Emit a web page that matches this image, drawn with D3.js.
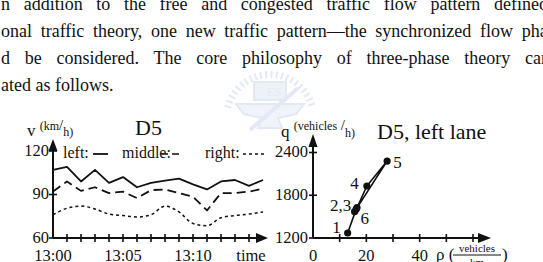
<!DOCTYPE html>
<html>
<head>
<meta charset="utf-8">
<script src="https://cdn.jsdelivr.net/npm/d3@7"></script>
<style>
  body { margin: 0; background: #fff; }
  svg { display: block; }
  text { font-family: "Liberation Serif", "Times New Roman", serif; fill: #111; }
</style>
</head>
<body>
<div id="page"></div>
<script>
// page text (justified lines, cut by the page edges)
var bodyLines = [
  "n addition to the free and congested traffic flow pattern defined",
  "onal traffic theory, one new traffic pattern\u2014the synchronized flow phase",
  "d be considered. The core philosophy of three-phase theory can",
  "ated as follows."
];
var justifyTo = ["defined", "flow", "can", null];

// left chart: speed per minute, 13:00 .. 13:15
var minutes = d3.range(0, 16);
var speedLeft   = [107, 109, 99, 107, 98, 102, 95, 98, 99.5, 101, 97, 93.5, 99, 100, 96, 100];
var speedMiddle = [92, 99, 92.5, 95, 91, 92, 87.5, 93, 93.5, 91, 88.5, 79, 91, 91, 92, 94];
var speedRight  = [76, 80.5, 82, 80, 76.5, 75.5, 74.5, 76, 82, 78, 70, 68.5, 74, 75.5, 76.5, 78];
var timeTicks = ["13:00", "13:05", "13:10"];
var speedTicks = [60, 90, 120];

// right chart: flow-density points of the left lane
var pointIds = ["1", "2", "3", "4", "5", "6"];
var pointRho = [13, 16.2, 16.5, 20.2, 27.8, 15.6];
var pointQ   = [1270, 1605, 1625, 1930, 2280, 1570];
var pointLabels = ["1", "2,3", "4", "5", "6"];
var rhoTicks = [0, 10, 20, 30, 40, 50, 60];
var rhoLabels = [0, 20, 40];
var flowTicks = [1200, 1800, 2400];

var W = 543, H = 262;
var serif = "'Liberation Serif', 'Times New Roman', serif";
var svg = d3.select("#page").append("svg")
  .attr("width", W).attr("height", H)
  .attr("font-family", serif);

// faint watermark logo behind the text
var logo = svg.append("g").attr("transform", "translate(270,118)")
  .attr("fill", "none").attr("stroke", "#e2e9f4").attr("stroke-width", 2);
logo.selectAll("line.tk").data(d3.range(-75, 76, 7)).enter().append("line")
  .attr("x1", function(d) { return 40 * Math.sin(d * Math.PI / 180); })
  .attr("y1", function(d) { return -40 * Math.cos(d * Math.PI / 180); })
  .attr("x2", function(d) { return 47 * Math.sin(d * Math.PI / 180); })
  .attr("y2", function(d) { return -47 * Math.cos(d * Math.PI / 180); });
logo.append("rect").attr("x", -16).attr("y", -36).attr("width", 32).attr("height", 18)
  .attr("fill", "#edf2f9").attr("stroke", "#e2e9f4");
logo.append("text").attr("x", 4).attr("y", -22).attr("text-anchor", "middle")
  .style("font-size", "13px").style("fill", "#e4ebf5").attr("stroke", "none").text("ES");
logo.append("path").attr("d", "M-34,-14 L34,-14 L26,-4 L8,0 L12,10 L-12,10 L-8,0 L-26,-4 Z")
  .attr("fill", "#f0f4fa");
logo.append("line").attr("x1", -20).attr("y1", 12).attr("x2", 28).attr("y2", -30)
  .attr("stroke-width", 4);

// body text, justified by word spacing
bodyLines.forEach(function(line, i) {
  var t = svg.append("text")
    .attr("x", 1).attr("y", 10 + i * 27)
    .style("font-size", "18px")
    .text(line);
  var last = justifyTo[i];
  if (!last) return;
  var prefix = line.slice(0, line.indexOf(last) + last.length);
  var probe = svg.append("text").style("font-size", "18px").text(prefix);
  var natural = probe.node().getComputedTextLength();
  probe.remove();
  var gaps = prefix.split(" ").length - 1;
  var target = [548, 513, 550][i];
  t.style("word-spacing", ((target - 1 - natural) / gaps) + "px");
});

// ---------- left chart ----------
var xT = d3.scaleLinear().domain([0, 15]).range([53, 263]);
var yV = d3.scaleLinear().domain([60, 120]).range([238, 151]);

var left = svg.append("g");
var axisStroke = "#111";

left.append("line").attr("x1", xT(0)).attr("x2", 258).attr("y1", yV(60)).attr("y2", yV(60))
  .attr("stroke", axisStroke).attr("stroke-width", 2);
left.append("path").attr("d", "M256," + (yV(60) - 5) + " L268," + yV(60) + " L256," + (yV(60) + 5) + "Z")
  .attr("fill", axisStroke);
left.append("line").attr("x1", xT(0)).attr("x2", xT(0)).attr("y1", yV(60)).attr("y2", 148)
  .attr("stroke", axisStroke).attr("stroke-width", 2);
left.append("path").attr("d", "M" + (xT(0) - 4.5) + ",151 L" + xT(0) + ",139 L" + (xT(0) + 4.5) + ",151Z")
  .attr("fill", axisStroke);

left.selectAll("line.xt").data(d3.range(1, 15)).enter().append("line")
  .attr("x1", function(d) { return xT(d); }).attr("x2", function(d) { return xT(d); })
  .attr("y1", yV(60) - 4).attr("y2", yV(60) + 4)
  .attr("stroke", axisStroke).attr("stroke-width", 1.6);
left.selectAll("line.yt").data(speedTicks).enter().append("line")
  .attr("x1", xT(0) - 4).attr("x2", xT(0) + 4)
  .attr("y1", function(d) { return yV(d); }).attr("y2", function(d) { return yV(d); })
  .attr("stroke", axisStroke).attr("stroke-width", 1.6);

left.selectAll("text.xl").data(timeTicks).enter().append("text")
  .attr("x", function(d, i) { return xT(i * 5); }).attr("y", 260.5)
  .attr("text-anchor", "middle").style("font-size", "16.5px").text(function(d) { return d; });
left.append("text").attr("x", 251).attr("y", 260.5).attr("text-anchor", "middle")
  .style("font-size", "16.5px").text("time");
left.selectAll("text.yl").data(speedTicks).enter().append("text")
  .attr("x", 49).attr("y", function(d) { return yV(d) + 4.5; })
  .attr("text-anchor", "end").style("font-size", "16.5px").text(function(d) { return d; });

// y label and title
var vl = left.append("text").attr("x", 27).attr("y", 136).style("font-size", "17px");
vl.append("tspan").text("v ");
vl.append("tspan").attr("dy", -6).style("font-size", "12px").text("(km");
vl.append("tspan").attr("dy", 0).style("font-size", "15px").text("/");
vl.append("tspan").attr("dy", 6).style("font-size", "12px").text("h)");
left.append("text").attr("x", 135).attr("y", 135).style("font-size", "22px").text("D5");

// legend
left.append("text").attr("x", 63).attr("y", 158).style("font-size", "16px").text("left:");
left.append("line").attr("x1", 93).attr("x2", 108).attr("y1", 154).attr("y2", 154)
  .attr("stroke", axisStroke).attr("stroke-width", 1.8);
left.append("text").attr("x", 122).attr("y", 158).style("font-size", "16px").text("middle:");
left.append("line").attr("x1", 161).attr("x2", 179).attr("y1", 154).attr("y2", 154)
  .attr("stroke", axisStroke).attr("stroke-width", 1.6).attr("stroke-dasharray", "7,4");
left.append("text").attr("x", 205).attr("y", 158).style("font-size", "16px").text("right:");
left.append("line").attr("x1", 243).attr("x2", 264).attr("y1", 154).attr("y2", 154)
  .attr("stroke", axisStroke).attr("stroke-width", 1.4).attr("stroke-dasharray", "3,3");

var series = [
  { vals: speedLeft, dash: null, w: 1.8, curve: d3.curveLinear },
  { vals: speedMiddle, dash: "9,5", w: 1.8, curve: d3.curveLinear },
  { vals: speedRight, dash: "3,3", w: 1.5, curve: d3.curveMonotoneX }
];
series.forEach(function(s) {
  var line = d3.line()
    .x(function(d, i) { return xT(minutes[i]); })
    .y(function(d) { return yV(d); })
    .curve(s.curve);
  left.append("path").datum(s.vals).attr("d", line)
    .attr("fill", "none").attr("stroke", axisStroke).attr("stroke-width", s.w)
    .attr("stroke-dasharray", s.dash).attr("stroke-linejoin", "round");
});

// ---------- right chart ----------
var xR = d3.scaleLinear().domain([0, 60]).range([313, 473]);
var yR = d3.scaleLinear().domain([1200, 2400]).range([238, 152.5]);
var right = svg.append("g");

right.append("line").attr("x1", xR(0)).attr("x2", 480).attr("y1", yR(1200)).attr("y2", yR(1200))
  .attr("stroke", axisStroke).attr("stroke-width", 2);
right.append("path").attr("d", "M478," + (yR(1200) - 5) + " L491," + yR(1200) + " L478," + (yR(1200) + 5) + "Z")
  .attr("fill", axisStroke);
right.append("line").attr("x1", xR(0)).attr("x2", xR(0)).attr("y1", yR(1200)).attr("y2", 144)
  .attr("stroke", axisStroke).attr("stroke-width", 2);
right.append("path").attr("d", "M" + (xR(0) - 4.5) + ",147 L" + xR(0) + ",134 L" + (xR(0) + 4.5) + ",147Z")
  .attr("fill", axisStroke);

right.selectAll("line.xt").data(rhoTicks.slice(1)).enter().append("line")
  .attr("x1", function(d) { return xR(d); }).attr("x2", function(d) { return xR(d); })
  .attr("y1", yR(1200) - 4).attr("y2", yR(1200) + 4)
  .attr("stroke", axisStroke).attr("stroke-width", 1.6);
right.selectAll("line.yt").data(flowTicks).enter().append("line")
  .attr("x1", xR(0) - 4).attr("x2", xR(0) + 4)
  .attr("y1", function(d) { return yR(d); }).attr("y2", function(d) { return yR(d); })
  .attr("stroke", axisStroke).attr("stroke-width", 1.6);
right.selectAll("text.xl").data(rhoLabels).enter().append("text")
  .attr("x", function(d) { return xR(d); }).attr("y", 260.5)
  .attr("text-anchor", "middle").style("font-size", "16.5px").text(function(d) { return d; });
right.selectAll("text.yl").data(flowTicks).enter().append("text")
  .attr("x", 308).attr("y", function(d) { return yR(d) + 4.5; })
  .attr("text-anchor", "end").style("font-size", "16.5px").text(function(d) { return d; });

// axis titles
var ql = right.append("text").attr("x", 281).attr("y", 137).style("font-size", "17px");
ql.append("tspan").text("q ");
ql.append("tspan").attr("dy", -7).style("font-size", "12px").text("(vehicles");
ql.append("tspan").style("font-size", "15px").text(" /");
ql.append("tspan").attr("dy", 7).style("font-size", "12px").text("h)");
right.append("text").attr("x", 377).attr("y", 139).style("font-size", "22px").text("D5, left lane");

right.append("text").attr("x", 436).attr("y", 260).style("font-size", "17px").text("\u03c1 (");
right.append("text").attr("x", 477).attr("y", 252).attr("text-anchor", "middle")
  .style("font-size", "11px").text("vehicles");
right.append("line").attr("x1", 453).attr("x2", 501).attr("y1", 255).attr("y2", 255)
  .attr("stroke", axisStroke).attr("stroke-width", 1);
right.append("text").attr("x", 477).attr("y", 266).attr("text-anchor", "middle")
  .style("font-size", "11px").text("km");
right.append("text").attr("x", 502).attr("y", 260).style("font-size", "17px").text(")");

var pts = pointIds.map(function(id, i) { return { id: id, rho: pointRho[i], q: pointQ[i] }; });
var fline = d3.line().x(function(d) { return xR(d.rho); }).y(function(d) { return yR(d.q); });
right.append("path").datum(pts).attr("d", fline)
  .attr("fill", "none").attr("stroke", axisStroke).attr("stroke-width", 1.6)
  .attr("stroke-linejoin", "round");
right.selectAll("circle").data(pts).enter().append("circle")
  .attr("cx", function(d) { return xR(d.rho); }).attr("cy", function(d) { return yR(d.q); })
  .attr("r", 3.6).attr("fill", axisStroke);

// point labels placed next to their points
var labelAt = {
  "1":   { p: 0, dx: -7, dy: 0, anchor: "end" },
  "2,3": { p: 1, dx: -5, dy: 2, anchor: "end" },
  "4":   { p: 3, dx: -8, dy: 3, anchor: "end" },
  "5":   { p: 4, dx: 6, dy: 7, anchor: "start" },
  "6":   { p: 5, dx: 6, dy: 12, anchor: "start" }
};
right.selectAll("text.pl").data(pointLabels).enter().append("text")
  .attr("x", function(d) { return xR(pts[labelAt[d].p].rho) + labelAt[d].dx; })
  .attr("y", function(d) { return yR(pts[labelAt[d].p].q) + labelAt[d].dy; })
  .attr("text-anchor", function(d) { return labelAt[d].anchor; })
  .style("font-size", "17px").text(function(d) { return d; });
</script>
</body>
</html>
